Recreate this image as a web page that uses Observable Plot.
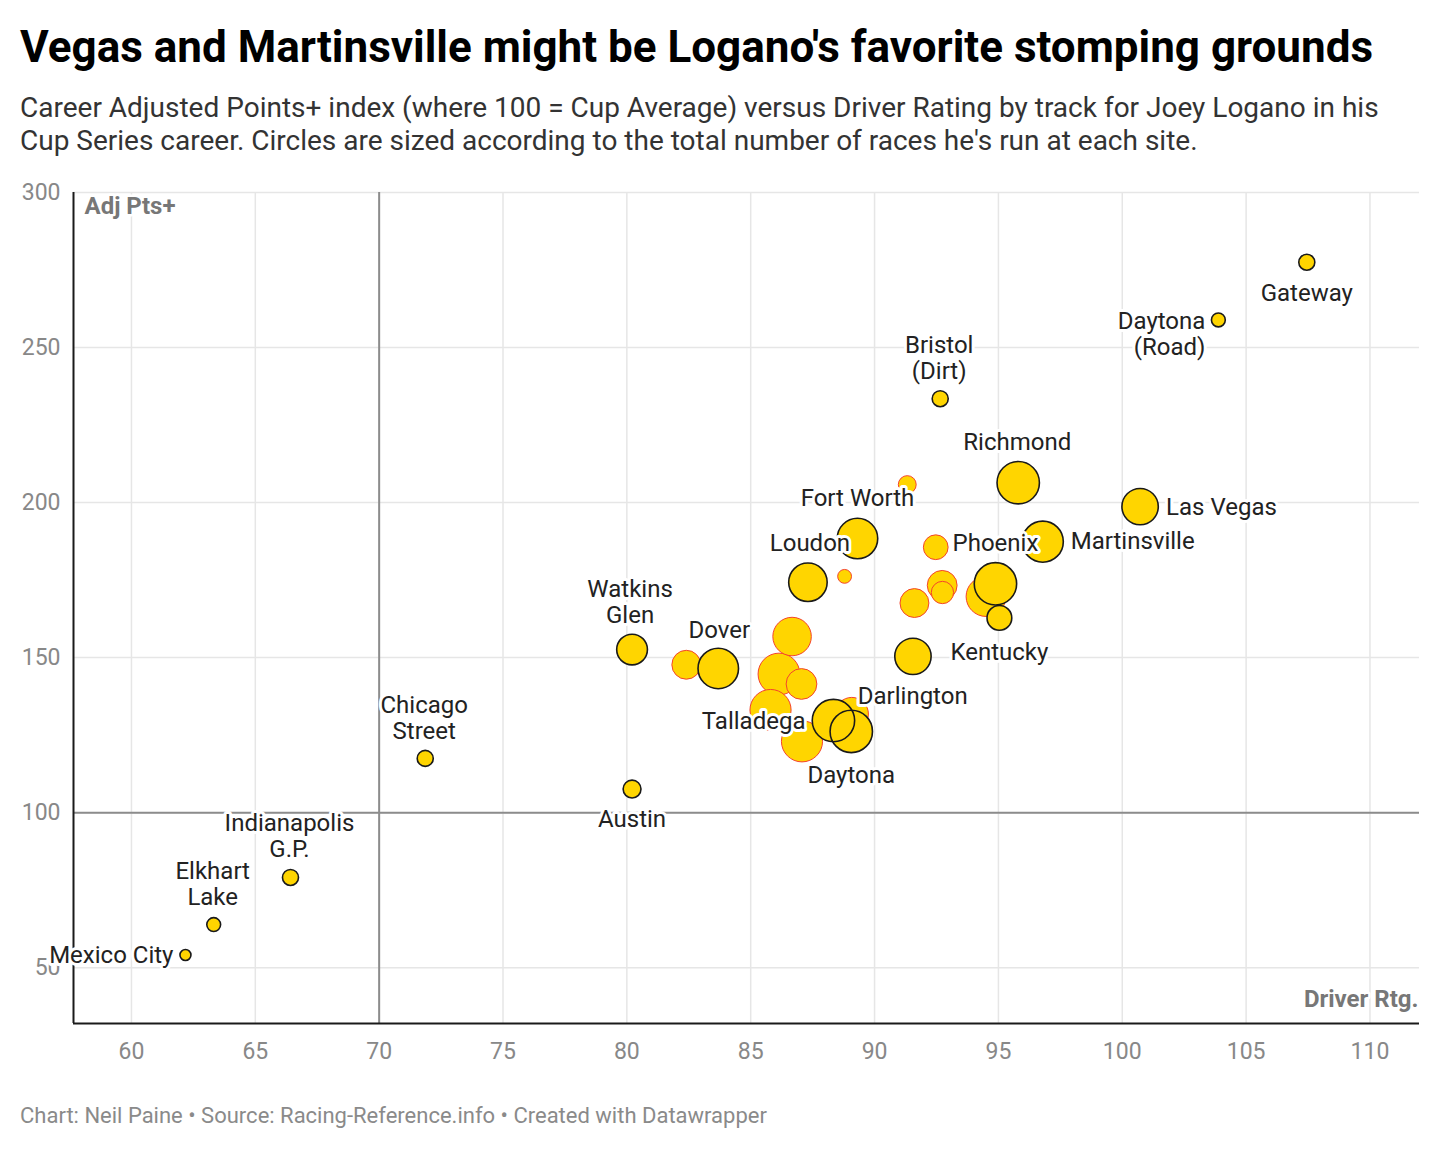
<!DOCTYPE html>
<html><head><meta charset="utf-8">
<script src="https://cdn.jsdelivr.net/npm/d3@7"></script>
<script src="https://cdn.jsdelivr.net/npm/@observablehq/plot@0.6"></script>
<style>
body{margin:0;background:#fff;font-family:Roboto,sans-serif;width:1440px;height:1150px;position:relative;overflow:hidden}
#title{position:absolute;left:20px;top:25px;font-size:44px;line-height:44px;font-weight:700;color:#000;white-space:nowrap}
#subtitle{position:absolute;left:20px;top:91px;font-size:28px;line-height:33px;color:#333;width:1385px}
#chart{position:absolute;left:0;top:172px}
#footer{position:absolute;left:20px;top:1103px;font-size:22px;color:#8a8a8a}
</style></head><body>
<div id="title">Vegas and Martinsville might be Logano's favorite stomping grounds</div>
<div id="subtitle">Career Adjusted Points+ index (where 100 = Cup Average) versus Driver Rating by track for Joey Logano in his Cup Series career. Circles are sized according to the total number of races he's run at each site.</div>
<div id="chart"></div>
<div id="footer">Chart: Neil Paine • Source: Racing-Reference.info • Created with Datawrapper</div>
<script>
// ---- data ----
const tracks = ["Gateway","Daytona (Road)","Bristol (Dirt)","Richmond","Las Vegas","Martinsville","Fort Worth","Loudon","Phoenix","Kentucky","unlabeled-black","Dover","Watkins Glen","Austin","Chicago Street","Indianapolis G.P.","Elkhart Lake","Mexico City","Talladega","Daytona",
  "unlabeled-1","unlabeled-2","unlabeled-3","unlabeled-4","unlabeled-5","unlabeled-6","unlabeled-7","unlabeled-8","unlabeled-9","unlabeled-10","unlabeled-11","unlabeled-12","unlabeled-13","Darlington"];
const driverRating = [107.45,103.88,92.65,95.80,100.72,96.79,89.31,87.31,94.88,95.04,91.55,83.69,80.21,80.21,71.86,66.42,63.32,62.18,88.34,89.06,
  91.32,92.47,88.79,92.73,92.74,91.61,94.50,86.67,82.40,86.14,87.05,85.80,87.07,89.08];
const adjPtsPlus = [277.5,258.9,233.5,206.4,198.7,187.4,188.4,174.3,173.8,162.8,150.4,146.5,152.6,107.6,117.5,79.1,63.9,54.1,129.7,126.2,
  205.8,185.6,176.2,173.3,171.0,167.6,169.7,156.8,147.7,144.7,141.5,133.1,123.0,131.8];
const races = [3,2,3,31,22,29,28,25,31,9,22,28,15,4,3,3,2,1,31,31,
  4,9,2,14,7,13,27,25,13,30,15,29,29,18];
const outlinedTracks = ["Gateway","Daytona (Road)","Bristol (Dirt)","Richmond","Las Vegas","Martinsville","Fort Worth","Loudon","Phoenix","Kentucky","unlabeled-black","Dover","Watkins Glen","Austin","Chicago Street","Indianapolis G.P.","Elkhart Lake","Mexico City","Talladega","Daytona"];
const xTicks = [60,65,70,75,80,85,90,95,100,105,110];
const yTicks = [50,100,150,200,250,300];

// label placement (style)
const labelCfg = {
  "Gateway": {text:"Gateway", anchor:"middle", dx:0, dy:30},
  "Daytona (Road)": {text:"Daytona\n(Road)", anchor:"end", dx:-13, dy:14},
  "Bristol (Dirt)": {text:"Bristol\n(Dirt)", anchor:"middle", dx:-1, dy:-41},
  "Richmond": {text:"Richmond", anchor:"middle", dx:-1, dy:-41},
  "Las Vegas": {text:"Las Vegas", anchor:"start", dx:26, dy:0},
  "Martinsville": {text:"Martinsville", anchor:"start", dx:28, dy:-1},
  "Fort Worth": {text:"Fort Worth", anchor:"middle", dx:0, dy:-41},
  "Loudon": {text:"Loudon", anchor:"middle", dx:2, dy:-40},
  "Phoenix": {text:"Phoenix", anchor:"middle", dx:0, dy:-41},
  "Kentucky": {text:"Kentucky", anchor:"middle", dx:0, dy:34},
  "Dover": {text:"Dover", anchor:"middle", dx:1, dy:-39},
  "Watkins Glen": {text:"Watkins\nGlen", anchor:"middle", dx:-2, dy:-48},
  "Austin": {text:"Austin", anchor:"middle", dx:0, dy:30},
  "Chicago Street": {text:"Chicago\nStreet", anchor:"middle", dx:-1, dy:-41},
  "Indianapolis G.P.": {text:"Indianapolis\nG.P.", anchor:"middle", dx:-1, dy:-42},
  "Elkhart Lake": {text:"Elkhart\nLake", anchor:"middle", dx:-1, dy:-41},
  "Mexico City": {text:"Mexico City", anchor:"end", dx:-12, dy:0},
  "Talladega": {text:"Talladega", anchor:"end", dx:-28, dy:0},
  "Daytona": {text:"Daytona", anchor:"middle", dx:0, dy:43},
  "Darlington": {text:"Darlington", anchor:"start", dx:6, dy:-18}
};

const data = tracks.map((t,i)=>({track:t, rating:driverRating[i], adj:adjPtsPlus[i], races:races[i], outlined: outlinedTracks.includes(t)}));
const redData = data.filter(d=>!d.outlined);
const blackData = data.filter(d=>d.outlined);

const yellow = "#ffd500";
const labelMarks = Object.entries(labelCfg).map(([name,c]) =>
  Plot.text(data.filter(d=>d.track===name), {
    x:"rating", y:"adj", text:()=>c.text, textAnchor:c.anchor, dx:c.dx, dy:c.dy,
    lineAnchor:"middle", lineHeight:26/24, fontSize:24, fill:"#222",
    stroke:"white", strokeWidth:6, strokeLinejoin:"round"
  }));

const plot = Plot.plot({
  width:1440, height:911,
  marginLeft:73, marginRight:21, marginTop:20, marginBottom:60,
  style:{fontFamily:"Roboto, sans-serif", fontSize:"23px", color:"#888", background:"#fff", overflow:"visible"},
  x:{domain:[57.66,112]},
  y:{domain:[32,300]},
  r:{type:"sqrt", domain:[1,32], range:[5.5,21.5]},
  marks:[
    Plot.gridX(xTicks, {stroke:"#e6e6e6", strokeOpacity:1, strokeWidth:1.5}),
    Plot.gridY(yTicks, {stroke:"#e6e6e6", strokeOpacity:1, strokeWidth:1.5}),
    Plot.ruleX([70], {stroke:"#8c8c8c", strokeWidth:2}),
    Plot.ruleY([100], {stroke:"#8c8c8c", strokeWidth:2}),
    Plot.ruleX([57.66], {stroke:"#1a1a1a", strokeWidth:2}),
    Plot.ruleY([32], {stroke:"#1a1a1a", strokeWidth:2}),
    Plot.axisX(xTicks, {tickSize:0, tickPadding:19, fontSize:23, fill:"#888", label:null}),
    Plot.axisY(yTicks, {tickSize:0, tickPadding:13, fontSize:23, fill:"#888", label:null}),
    Plot.text(["Adj Pts+"], {frameAnchor:"top-left", dx:11, dy:4, textAnchor:"start", lineAnchor:"top", fontWeight:"bold", fontSize:24, fill:"#777", stroke:"white", strokeWidth:5}),
    Plot.text(["Driver Rtg."], {frameAnchor:"bottom-right", dx:-1, dy:-17, textAnchor:"end", lineAnchor:"bottom", fontWeight:"bold", fontSize:24, fill:"#777", stroke:"white", strokeWidth:5}),
    Plot.dot(redData, {x:"rating", y:"adj", r:"races", fill:yellow, stroke:"#f4432c", strokeWidth:1}),
    Plot.dot(blackData, {x:"rating", y:"adj", r:"races", fill:yellow, stroke:"none"}),
    Plot.dot(blackData, {x:"rating", y:"adj", r:"races", fill:"none", stroke:"#1a1a1a", strokeWidth:1.6}),
    ...labelMarks
  ]
});
document.getElementById("chart").appendChild(plot);
</script>
</body></html>
